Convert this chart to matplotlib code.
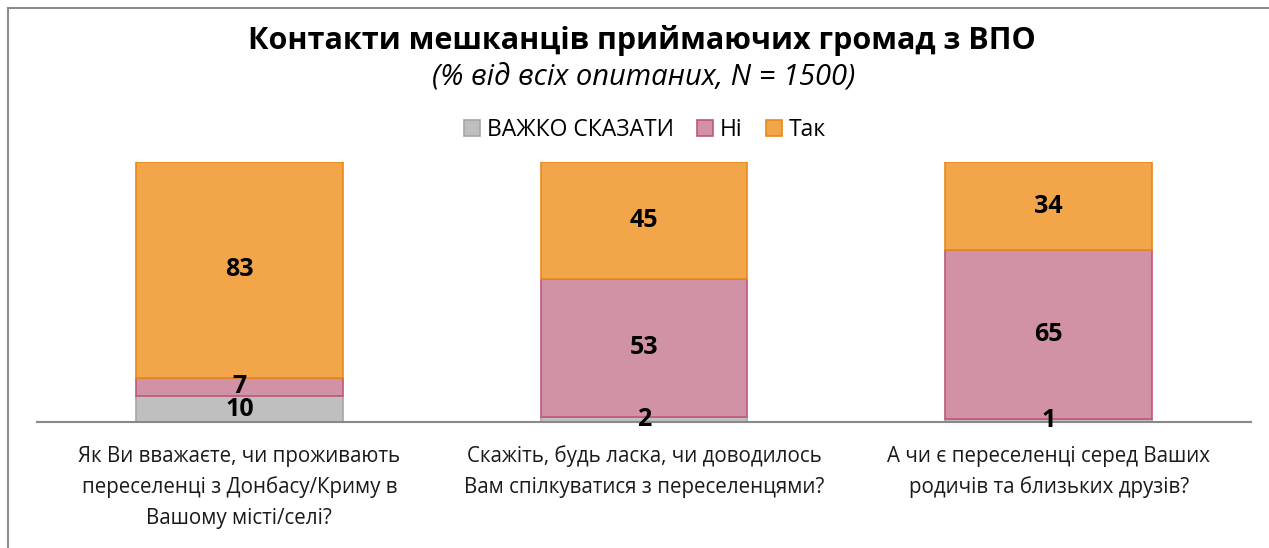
import matplotlib.pyplot as plt
import numpy as np
from matplotlib.patches import Patch
from matplotlib.lines import Line2D

plt.rcParams['font.family'] = ['Open Sans', 'DejaVu Sans']

categories = [
    "Як Ви вважаєте, чи проживають\nпереселенці з Донбасу/Криму в\nВашому місті/селі?",
    "Скажіть, будь ласка, чи доводилось\nВам спілкуватися з переселенцями?",
    "А чи є переселенці серед Ваших\nродичів та близьких друзів?",
]
series_names = ["ВАЖКО СКАЗАТИ", "Ні", "Так"]
hard_to_say = [10, 2, 1]
no_vals = [7, 53, 65]
yes_vals = [83, 45, 34]

fills = ['#BFBFBF', '#D192A6', '#F2A549']
edges = ['#A6A6A6', '#C0577A', '#E68A1E']

fig = plt.figure(figsize=(12.69, 5.48), dpi=100)
ax = fig.add_axes([37 / 1269, 126 / 548, 1214 / 1269, 260 / 548])

x = np.arange(len(categories))
bottom = np.zeros(len(categories))
for vals, name, fc, ec in zip([hard_to_say, no_vals, yes_vals], series_names, fills, edges):
    vals = np.array(vals, dtype=float)
    ax.bar(x, vals, width=0.51, bottom=bottom, color=fc, edgecolor=ec, linewidth=1.2, zorder=2)
    # підписи значень по центру сегментів
    for xi, b, v in zip(x, bottom, vals):
        ax.text(xi, b + v / 2, f"{int(v)}", ha='center', va='center',
                fontsize=18, fontweight='bold', color='black', zorder=4)
    bottom += vals

ax.set_xlim(-0.5, 2.5)
ax.set_ylim(0, 100)
for s in ['top', 'right', 'left']:
    ax.spines[s].set_visible(False)
ax.spines['bottom'].set_color('#898989')
ax.spines['bottom'].set_linewidth(1.5)
ax.spines['bottom'].set_zorder(3)
ax.set_yticks([])
ax.set_xticks(x)
ax.set_xticklabels(categories, fontsize=14.8, linespacing=1.58, color='#1a1a1a')
ax.tick_params(axis='x', length=0, pad=17)

fig.text(642 / 1269, 1 - 40 / 548, "Контакти мешканців приймаючих громад з ВПО",
         ha='center', va='center', fontsize=22, fontweight='bold')
fig.text(644 / 1269, 1 - 78 / 548, "(% від всіх опитаних, N = 1500)",
         ha='center', va='center', fontsize=21, style='italic')

handles = [Patch(facecolor=fc, edgecolor=ec, linewidth=1.2) for fc, ec in zip(fills, edges)]
fig.legend(handles, series_names, loc='center', bbox_to_anchor=(645 / 1269, 1 - 130 / 548),
           ncol=3, frameon=False, fontsize=16.5, handlelength=0.7, handleheight=0.7,
           handletextpad=0.3, columnspacing=1.0, borderpad=0)

# рамка діаграми (верх і ліворуч)
fig.add_artist(Line2D([8 / 1269, 1], [1 - 8 / 548, 1 - 8 / 548], color='#8c8c8c', linewidth=1.5))
fig.add_artist(Line2D([8 / 1269, 8 / 1269], [0, 1 - 8 / 548], color='#8c8c8c', linewidth=1.5))

fig.savefig('out.png', dpi=100, facecolor='white')
